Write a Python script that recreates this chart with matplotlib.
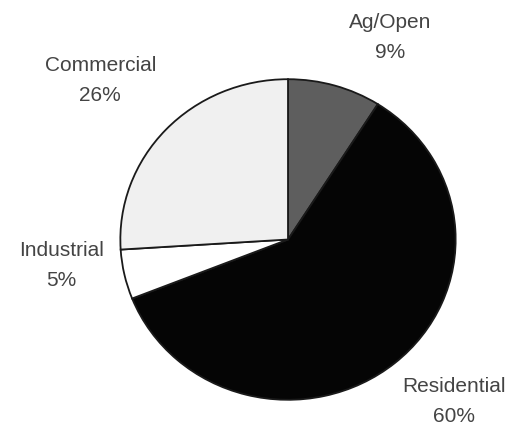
import numpy as np
import matplotlib.pyplot as plt

# land use shares, clockwise from 12 o'clock
labels = ['Ag/Open', 'Residential', 'Industrial', 'Commercial']
shares = [9, 60, 5, 26]
colors = ['#5e5e5e', '#050505', '#ffffff', '#f0f0f0']
# label anchor points (axes data units, pie radius = 1)
label_xy = [(0.61, 1.26), (0.99, -1.01), (-1.35, -0.16), (-1.12, 0.99)]

plt.rcParams['font.family'] = ['Liberation Sans', 'DejaVu Sans']

fig = plt.figure(figsize=(5.17, 4.28), dpi=100)
W, H = 517, 428
# slightly wider than tall, like the original print
ax = fig.add_axes([117 / W, (428 - 403) / H, 342 / W, 327 / H])

ax.pie(shares, colors=colors, startangle=90, counterclock=False,
       wedgeprops=dict(edgecolor='#1a1a1a', linewidth=1.3))
ax.set_aspect('auto')
ax.set_xlim(-1.02, 1.02)
ax.set_ylim(-1.02, 1.02)

for name, val, (x, y) in zip(labels, shares, label_xy):
    ax.text(x, y, f'{name}\n{val}%', ha='center', va='center',
            fontsize=15, color='#444444', linespacing=1.75, clip_on=False)

fig.savefig('out.png', dpi=100)
